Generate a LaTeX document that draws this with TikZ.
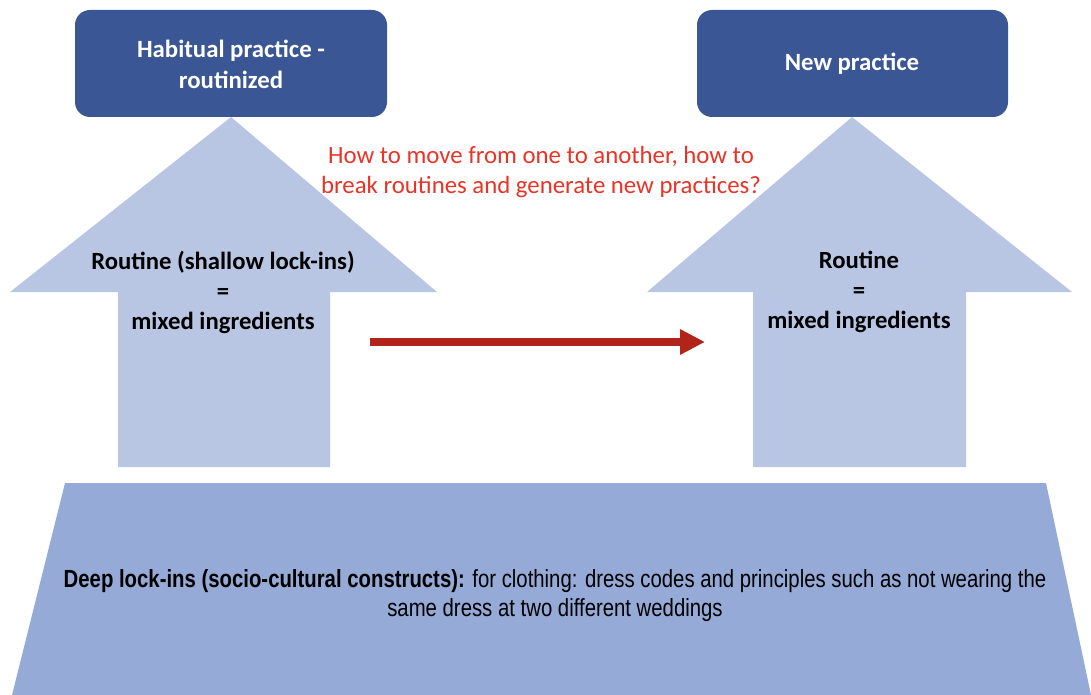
\documentclass[tikz,border=0pt]{standalone}
\usepackage{fontspec}
\setmainfont{Carlito}
\newfontfamily\narrowfont[FakeStretch=0.82]{Liberation Sans}
\usetikzlibrary{arrows.meta}
\definecolor{boxblue}{RGB}{58,86,148}
\definecolor{lightblue}{RGB}{184,198,228}
\definecolor{baseblue}{RGB}{149,170,215}
\definecolor{darkred}{RGB}{178,36,26}
\definecolor{textred}{RGB}{232,52,38}
\tikzset{
  topbox/.style={fill=boxblue, draw=none, rounded corners=15pt},
  bigarrow/.style={fill=lightblue, draw=none},
  basebox/.style={fill=baseblue, draw=none},
  boxtext/.style={text=white, font=\fontsize{24.8}{31}\selectfont\bfseries, align=center},
  arrowtext/.style={text=black, font=\fontsize{24.7}{30}\selectfont\bfseries, align=center},
  redtext/.style={text=textred, font=\fontsize{24.8}{30}\selectfont, align=center},
  basetext/.style={text=black, font=\narrowfont\fontsize{24.8}{29}\selectfont, align=center},
  movearrow/.style={draw=darkred, line width=8pt, -{Triangle[length=25pt,width=24pt]}}
}
\begin{document}
\begin{tikzpicture}[x=1pt,y=-1pt]
\useasboundingbox (0,0) rectangle (1091,695);
% base trapezoid
\fill[basebox] (65,483) -- (1046,483) -- (1091,695) -- (12,695) -- cycle;
% left arrow
\fill[bigarrow] (231,117) -- (437,292) -- (330,292) -- (330,467) -- (118,467) -- (118,292) -- (10,292) -- cycle;
% right arrow
\fill[bigarrow] (852,117) -- (1072,292) -- (966,292) -- (966,467) -- (753,467) -- (753,292) -- (647,292) -- cycle;
% top boxes
\fill[topbox] (75,10) rectangle (387,117);
\fill[topbox] (697,10) rectangle (1008,117);
\node[boxtext] (habit) at (231,64) {Habitual practice -\\routinized};
\node[boxtext] (newp) at (852,64) {New practice};
\node[arrowtext] (rout1) at (223,292) {Routine (shallow lock-ins)\\=\\mixed ingredients};
\node[arrowtext] (rout2) at (859,292) {Routine\\=\\mixed ingredients};
\node[redtext] (question) at (541,172) {How to move from one to another, how to\\break routines and generate new practices?};
\coordinate (ms) at (370,342);
\coordinate (me) at (705,342);
\draw[movearrow] (ms) -- (me);
\node[basetext] (deep) at (555,596) {\textbf{Deep lock-ins (socio-cultural constructs):} for clothing: dress codes and principles such as not wearing the\\same dress at two different weddings};
\end{tikzpicture}
\end{document}
